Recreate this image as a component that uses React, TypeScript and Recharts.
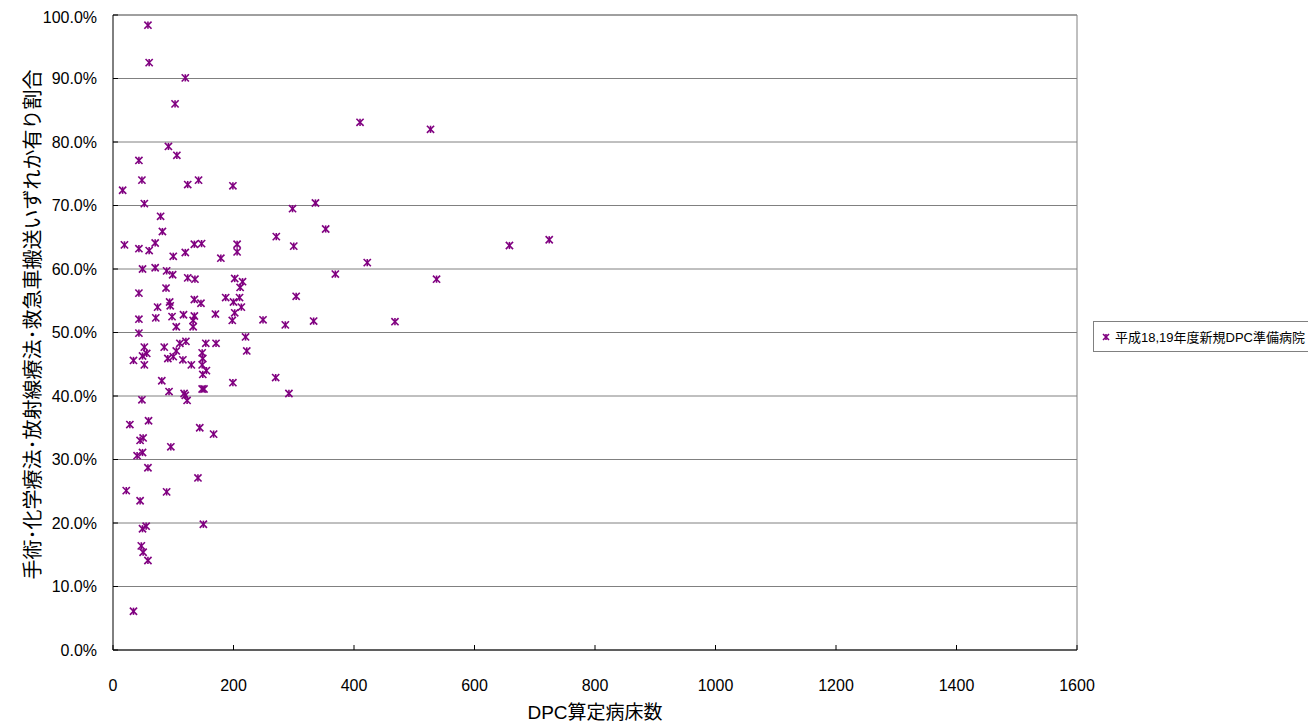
import React from "react";
import {
  CartesianGrid,
  Label,
  Legend,
  ReferenceLine,
  Scatter,
  ScatterChart,
  XAxis,
  YAxis
} from "recharts";

const FONT = "'Liberation Sans', 'Noto Sans CJK JP', sans-serif";
const PURPLE = "#800080";

const seriesName = "平成18,19年度新規DPC準備病院";
const xTitle = "DPC算定病床数";
const yTitle = "手術･化学療法･放射線療法･救急車搬送いずれか有り割合";

const xTicks = [0, 200, 400, 600, 800, 1000, 1200, 1400, 1600];
const yTicks = [0, 10, 20, 30, 40, 50, 60, 70, 80, 90, 100];

// DPC算定病床数
const beds = [
  58, 60, 120, 103, 92, 106, 43, 410, 527, 48,
  124, 142, 199, 16, 52, 298, 336, 79, 82, 353,
  271, 724, 658, 19, 43, 60, 70, 100, 120, 135,
  147, 179, 206, 206, 300, 422, 49, 70, 89, 99,
  124, 136, 202, 215, 211, 369, 537, 43, 88, 304,
  135, 146, 187, 200, 210, 213, 74, 94, 95, 170,
  202, 198, 43, 71, 98, 117, 135, 133, 133, 105,
  249, 286, 333, 468, 43, 220, 52, 85, 111, 121,
  154, 171, 34, 49, 56, 52, 91, 100, 105, 116,
  130, 148, 149, 148, 155, 149, 222, 81, 93, 118,
  120, 123, 148, 151, 199, 270, 292, 48, 59, 28,
  144, 167, 45, 50, 49, 40, 96, 58, 141, 22,
  89, 45, 49, 55, 150, 47, 50, 58, 34
];

// 割合 (%)
const ratio = [
  98.4, 92.5, 90.1, 86.0, 79.3, 77.9, 77.1, 83.1, 82.0, 74.0,
  73.3, 74.0, 73.1, 72.4, 70.3, 69.5, 70.4, 68.3, 65.9, 66.3,
  65.1, 64.6, 63.7, 63.8, 63.2, 62.9, 64.1, 62.0, 62.6, 63.9,
  64.0, 61.7, 63.9, 62.7, 63.6, 61.0, 60.0, 60.2, 59.7, 59.1,
  58.6, 58.4, 58.5, 58.0, 57.1, 59.2, 58.4, 56.2, 57.0, 55.7,
  55.2, 54.6, 55.5, 54.8, 55.5, 54.0, 54.0, 54.8, 54.2, 52.9,
  53.1, 51.9, 52.1, 52.3, 52.5, 52.8, 52.6, 51.9, 50.9, 50.9,
  52.0, 51.2, 51.8, 51.7, 49.9, 49.3, 47.7, 47.7, 48.3, 48.6,
  48.3, 48.3, 45.6, 46.3, 46.7, 44.9, 45.9, 46.2, 47.1, 45.7,
  44.9, 46.8, 45.9, 44.9, 44.0, 43.4, 47.1, 42.4, 40.7, 40.4,
  40.1, 39.3, 41.1, 41.1, 42.1, 42.9, 40.4, 39.4, 36.1, 35.5,
  35.0, 34.0, 33.0, 33.4, 31.1, 30.6, 32.0, 28.7, 27.1, 25.1,
  24.9, 23.5, 19.1, 19.5, 19.8, 16.4, 15.4, 14.1, 6.1
];

const points = beds.map((b, i) => ({ beds: b, ratio: ratio[i] }));

function StarMark({ cx, cy, r = 3.6 }: { cx: number; cy: number; r?: number }) {
  return (
    <g stroke={PURPLE} strokeWidth={1.6}>
      <line x1={cx - r} y1={cy - r} x2={cx + r} y2={cy + r} />
      <line x1={cx - r} y1={cy + r} x2={cx + r} y2={cy - r} />
      <line x1={cx} y1={cy - r} x2={cx} y2={cy + r} />
    </g>
  );
}

function LegendBox() {
  return (
    <div
      style={{
        boxSizing: "border-box",
        width: 218,
        height: 31,
        border: "1px solid #808080",
        background: "#fff",
        display: "flex",
        alignItems: "center",
        fontFamily: FONT,
        fontSize: 13,
        color: "#000",
        whiteSpace: "nowrap"
      }}
    >
      <svg width={20} height={12} style={{ marginLeft: 1 }}>
        <StarMark cx={11} cy={6} r={3} />
      </svg>
      <span style={{ marginLeft: 0 }}>{seriesName}</span>
    </div>
  );
}

export default function App() {
  return (
    <div style={{ width: 1308, height: 719, fontFamily: FONT }}>
      <ScatterChart
        width={1308}
        height={719}
        margin={{ top: 7, right: 239, bottom: 17, left: 0 }}
      >
        <CartesianGrid horizontal vertical={false} stroke="#808080" />
        <XAxis
          type="number"
          dataKey="beds"
          domain={[0, 1600]}
          ticks={xTicks}
          height={60}
          axisLine={{ stroke: "#000" }}
          tickLine={{ stroke: "#000" }}
          tickSize={-5}
          tickMargin={35}
          tick={{ fill: "#000", fontSize: 16, fontFamily: FONT }}
        >
          <Label
            content={({ viewBox }: any) => (
              <text
                x={viewBox.x + viewBox.width / 2}
                y={viewBox.y + 62}
                textAnchor="middle"
                dominantBaseline="central"
                fontSize={19}
                fontFamily={FONT}
                fill="#000"
              >
                {xTitle}
              </text>
            )}
          />
        </XAxis>
        <YAxis
          type="number"
          dataKey="ratio"
          domain={[0, 100]}
          ticks={yTicks}
          width={105}
          axisLine={{ stroke: "#000" }}
          tickLine={{ stroke: "#000" }}
          tickSize={-5}
          tickMargin={21}
          tickFormatter={(v: number) => `${v.toFixed(1)}%`}
          tick={{ fill: "#000", fontSize: 16, fontFamily: FONT }}
        >
          <Label
            content={({ viewBox }: any) => {
              const x = 25;
              const y = viewBox.y + viewBox.height / 2 - 8;
              return (
                <text
                  x={x}
                  y={y}
                  transform={`rotate(-90 ${x} ${y})`}
                  textAnchor="middle"
                  dominantBaseline="central"
                  fontSize={20}
                  fontFamily={FONT}
                  fill="#000"
                >
                  {yTitle}
                </text>
              );
            }}
          />
        </YAxis>
        <ReferenceLine x={1600} stroke="#808080" />
        <ReferenceLine y={100} stroke="#808080" />
        <Legend
          layout="vertical"
          align="center"
          verticalAlign="middle"
          wrapperStyle={{ left: 1085, top: 313, width: 218, height: 31 }}
          content={() => <LegendBox />}
        />
        <Scatter
          name={seriesName}
          data={points}
          isAnimationActive={false}
          shape={(p: any) => <StarMark cx={p.cx} cy={p.cy} />}
        />
      </ScatterChart>
    </div>
  );
}
